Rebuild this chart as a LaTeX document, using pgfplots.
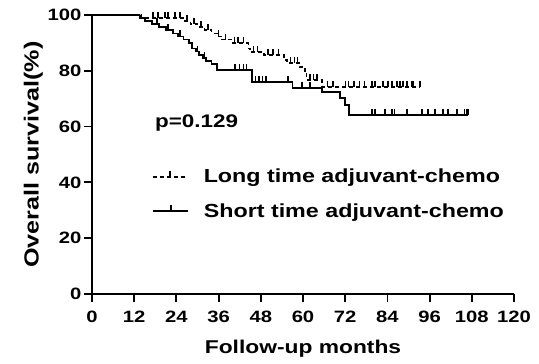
\documentclass[border=0pt]{standalone}
\usepackage{fontspec}
\setmainfont{Liberation Sans}[FakeStretch=1.23]
\usepackage{pgfplots}
\pgfplotsset{compat=1.18}
\begin{document}
\begin{tikzpicture}
\begin{axis}[
  name=ax,
  width=422bp, height=279bp, scale only axis,
  xmin=0, xmax=120, ymin=0, ymax=100,
  axis lines=left, axis line style={-, line width=1.8bp},
  xtick={0,12,...,120}, ytick={0,20,...,100},
  tick align=outside, major tick length=8bp,
  tick style={line width=1.8bp, black},
  tick label style={font=\fontsize{16.5}{16.5}\selectfont\bfseries},
  /pgf/number format/assume math mode=true,
  xticklabel style={yshift=-6bp},
  yticklabel style={xshift=1bp},
  xlabel={Follow-up months},
  ylabel={Overall survival(\%)},
  xlabel style={font=\fontsize{18.6}{18.6}\selectfont\bfseries, yshift=-10bp},
  ylabel style={font=\fontsize{20.5}{20.5}\selectfont\bfseries, yshift=-2bp},
  clip=false,
  legend cell align=left,
  legend style={draw=none, fill=none, at={(axis cs:17,45.5)}, anchor=north west,
    font=\fontsize{19}{19}\selectfont\bfseries, row sep=15bp, inner sep=0pt,
    /tikz/every odd column/.append style={column sep=13bp}},
]
% Long time adjuvant-chemo (dashed)
\addplot[const plot, black, line width=1.8bp, dash pattern=on 4bp off 3bp,
  legend image code/.code={\draw[black, line width=1.8bp, dash pattern=on 4bp off 3bp] (0bp,0bp) -- (33bp,0bp); \draw[black, line width=1.4bp, solid] (17bp,0bp) -- (17bp,6bp);}]
coordinates {
(0,100) (14,98.9) (26,97.8) (28,96.7) (30,95.6) (32,94.5) (34,93.4) (35.5,92.3)
(37,91.2) (40,90.1) (44.5,88.0) (45,86.7) (49,85.7) (54.5,83.9) (55.5,82.8)
(59,81.4) (60.5,79.2) (61,76.7) (65.5,74.2) (93.3,74.2)
};
\addlegendentry{Long time adjuvant-chemo}
% Short time adjuvant-chemo (solid)
\addplot[const plot, black, line width=1.8bp,
  legend image code/.code={\draw[black, line width=1.8bp] (0bp,0bp) -- (35bp,0bp); \draw[black, line width=1.4bp] (18bp,0bp) -- (18bp,6bp);}]
coordinates {
(0,100) (13.5,98.9) (15,97.8) (17,96.7) (19,95.6) (21,94.5) (23,93.4) (24.5,92.3)
(26,91.2) (27.5,90.1) (28.5,88.0) (29.5,86.9) (30.5,85.8) (31.5,84.6) (32.5,83.5)
(34,82.4) (35.5,80.3) (45.5,76.0) (57,73.9) (65.5,72.4) (70.5,70.3) (72,67.7)
(73,64.2) (107,64.2)
};
\addlegendentry{Short time adjuvant-chemo}
% censor marks, long
\addplot[forget plot, only marks, black, mark=|, mark size=3bp,
  mark options={line width=1.4bp, yshift=3bp}]
coordinates {
(17.3,98.9) (18.8,98.9) (20.8,98.9) (21.6,98.9) (23.6,98.9) (25,98.9) (27,97.8)
(29,96.7) (31,95.6) (33,94.5) (36,92.3) (38,91.2) (40.5,90.1) (41.5,90.1) (43,90.1)
(46,86.7) (47,86.7) (50,85.7) (51.5,85.7) (53,85.7) (56.5,82.8) (57.5,82.8) (58.5,82.8)
(62,76.7) (63,76.7) (64,76.7) (67,74.2) (68.5,74.2) (72,74.2) (73,74.2) (74.5,74.2)
(76,74.2) (77.5,74.2) (79.6,74.2) (80.5,74.2) (82.7,74.2) (84.2,74.2) (85.3,74.2)
(86.7,74.2) (87.6,74.2) (88.4,74.2) (89.6,74.2) (91,74.2) (91.3,74.2) (93.3,74.2)
};
% censor marks, short
\addplot[forget plot, only marks, black, mark=|, mark size=3bp,
  mark options={line width=1.4bp, yshift=3bp}]
coordinates {
(18.5,96.7) (21.6,94.5) (25,92.3) (30,86.9) (32,84.6) (40.7,80.3) (42,80.3) (43,80.3)
(44,80.3) (46.5,76.0) (47.5,76.0) (48.5,76.0) (49.5,76.0) (55.7,76.0) (59.7,73.9)
(62,73.9) (79.6,64.2) (80.5,64.2) (83.3,64.2) (85.3,64.2) (86.1,64.2) (89.6,64.2)
(93.8,64.2) (95.5,64.2) (97.5,64.2) (99.8,64.2) (101.2,64.2) (103.8,64.2) (106,64.2)
(106.6,64.2) (107,64.2)
};
\node[anchor=base west, font=\fontsize{18.3}{18.3}\selectfont\bfseries, inner sep=0pt]
  at (axis cs:17.9,59.5) {p=0.129};
\end{axis}
\pgfresetboundingbox
\path[use as bounding box] ([shift={(-92bp,-70bp)}]ax.south west) rectangle ([shift={(25bp,15bp)}]ax.north east);
\end{tikzpicture}
\end{document}
